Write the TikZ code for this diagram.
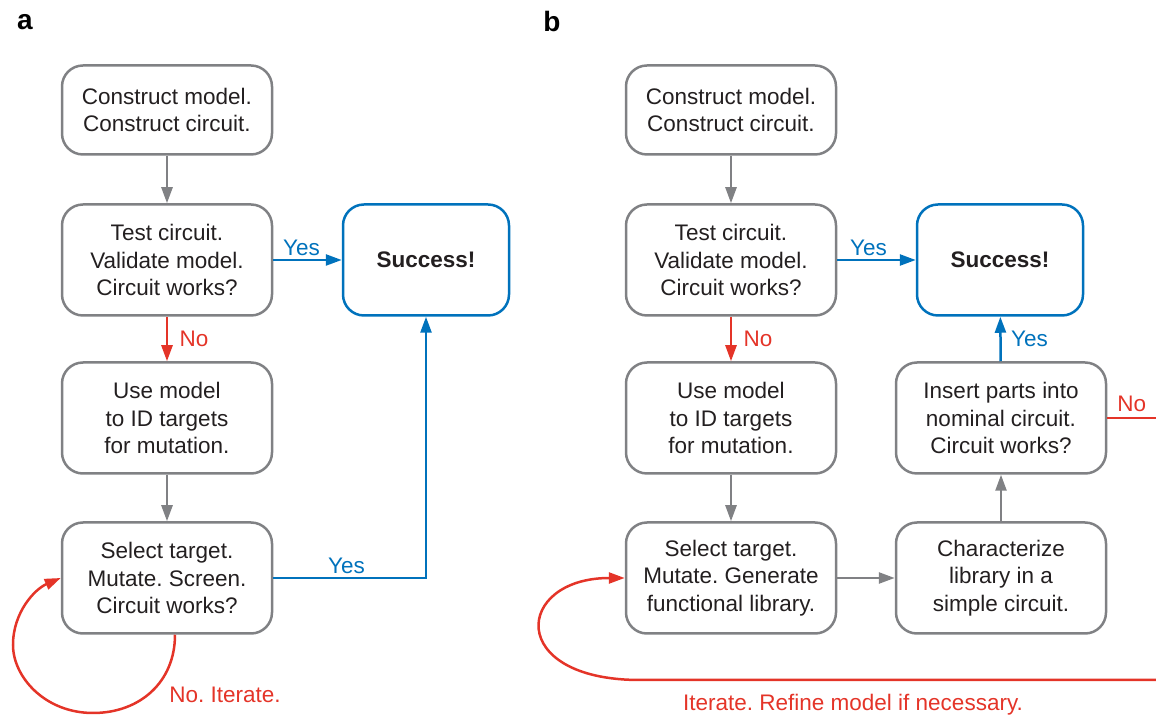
\documentclass[tikz,border=0pt]{standalone}
\usepackage{fontspec}
\setmainfont{Liberation Sans}
\usepackage{tikz}
\usetikzlibrary{arrows.meta}
\definecolor{boxgray}{RGB}{128,129,132}
\definecolor{okblue}{RGB}{0,114,188}
\definecolor{nored}{RGB}{228,52,40}
\definecolor{ink}{RGB}{35,31,32}
\frenchspacing

\begin{document}
\begin{tikzpicture}[x=1pt,y=1pt,
  every node/.style={font=\fontsize{22.5}{27.5}\selectfont, text=ink},
  box/.style={draw=boxgray, line width=2.5pt, rounded corners=21pt, align=center, inner sep=0pt, minimum width=210pt, minimum height=111pt},
  goal/.style={box, draw=okblue, minimum width=166pt},
  grayflow/.style={draw=boxgray, line width=2.5pt, -{Triangle[length=16pt,width=11pt]}},
  blueflow/.style={draw=okblue, line width=2.5pt, -{Triangle[length=16pt,width=11pt]}},
  redflow/.style={draw=nored, line width=2.5pt, -{Triangle[length=16pt,width=11pt]}},
  yes/.style={text=okblue},
  no/.style={text=nored},
  panel/.style={font=\fontsize{28}{34}\selectfont\bfseries, text=black}]
\useasboundingbox (0,0) rectangle (1156,717);

\node[panel] (pa) at (25,695) {a};
\node[panel] (pb) at (552,695) {b};

\node[box, minimum height=89pt] (a0) at (167,607) {Construct model.\\Construct circuit.};
\node[box] (a1) at (167,457) {Test circuit.\\Validate model.\\Circuit works?};
\node[box] (a2) at (167,299) {Use model\\to ID targets\\for mutation.};
\node[box] (a3) at (167,139) {Select target.\\Mutate. Screen.\\Circuit works?};
\node[goal] (a4) at (426,457) {\textbf{Success!}};
\node[no] (aiter) at (225,22) {No. Iterate.};

\draw[grayflow] (a0) -- (a1);
\draw[redflow] (a1) -- node[no, right, xshift=8pt] {No} (a2);
\draw[blueflow] (a1) -- node[yes, above, xshift=-6pt] {Yes} (a4);
\draw[grayflow] (a2) -- (a3);
\draw[blueflow] (a3.east) -| node[yes, above, pos=0.24] {Yes} (a4.south);
\draw[redflow] ([xshift=8pt]a3.south) .. controls (175,35) and (140,4) .. (93,4)
  .. controls (45,4) and (13,40) .. (13,72)
  .. controls (13,105) and (35,128) .. (a3.west);

\node[box, minimum height=89pt] (b0) at (731,607) {Construct model.\\Construct circuit.};
\node[box] (b1) at (731,457) {Test circuit.\\Validate model.\\Circuit works?};
\node[box] (b2) at (731,299) {Use model\\to ID targets\\for mutation.};
\node[box] (b3) at (731,139) {Select target.\\Mutate. Generate\\functional library.};
\node[goal] (b4) at (1000,457) {\textbf{Success!}};
\node[box] (b5) at (1001,299) {Insert parts into\\nominal circuit.\\Circuit works?};
\node[box] (b6) at (1001,139) {Characterize\\library in a\\simple circuit.};
\node[no] (biter) at (853,12) {Iterate. Refine model if necessary.};
\coordinate (bno) at (1156,299);
\coordinate (bback) at (1156,37);

\draw[grayflow] (b0) -- (b1);
\draw[redflow] (b1) -- node[no, right, xshift=8pt] {No} (b2);
\draw[blueflow] (b1) -- node[yes, above, xshift=-8pt] {Yes} (b4);
\draw[grayflow] (b2) -- (b3);
\draw[grayflow] (b3) -- (b6);
\draw[grayflow] (b6) -- (b5);
\draw[blueflow] (b5) -- node[yes, right, xshift=6pt] {Yes} (b4);
\draw[nored, line width=2.5pt] (b5) -- node[no, above, yshift=2pt] {No} (bno);
\draw[redflow] (bback) -- (640,37) .. controls (505,37) and (515,139) .. (b3.west);

\end{tikzpicture}
\end{document}
